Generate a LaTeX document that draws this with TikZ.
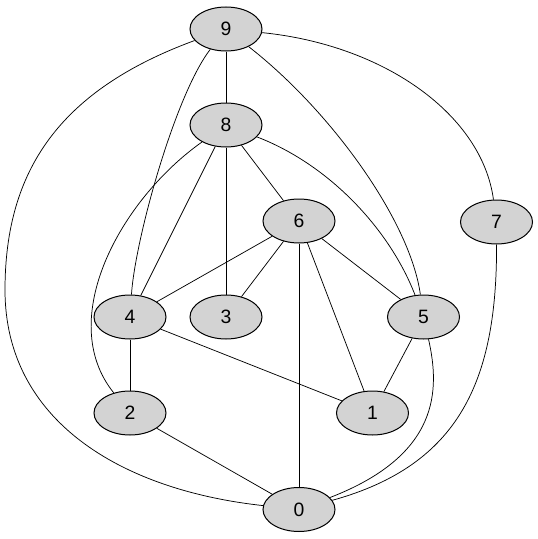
\documentclass[tikz,border=0pt]{standalone}
\usepackage{fontspec}
\setmainfont{Liberation Sans}
\usetikzlibrary{shapes.geometric}
\definecolor{nodegray}{RGB}{211,211,211}
\tikzset{
  vtx/.style={ellipse, draw=black, line width=0.75pt, fill=nodegray,
    minimum width=54pt, minimum height=33pt, inner sep=0pt,
    font=\fontsize{14.5}{16}\selectfont},
  edge/.style={draw=black, line width=0.55pt}
}
\begin{document}
\begin{tikzpicture}[x=0.75pt,y=-0.75pt]
\useasboundingbox (0,0) rectangle (537,539);
\node[vtx] (9) at (226,29) {9};
\node[vtx] (8) at (226,125) {8};
\node[vtx] (6) at (299,221) {6};
\node[vtx] (7) at (496.5,222) {7};
\node[vtx] (4) at (130,317) {4};
\node[vtx] (3) at (226,317) {3};
\node[vtx] (5) at (423.5,317) {5};
\node[vtx] (2) at (130,413) {2};
\node[vtx] (1) at (372.5,413) {1};
\node[vtx] (0) at (299,509.5) {0};
% straight edges
\draw[edge] (9) -- (8);
\draw[edge] (8) -- (4);
\draw[edge] (8) -- (3);
\draw[edge] (8) -- (6);
\draw[edge] (6) -- (4);
\draw[edge] (6) -- (3);
\draw[edge] (6) -- (5);
\draw[edge] (6) -- (1);
\draw[edge] (6) -- (0);
\draw[edge] (4) -- (2);
\draw[edge] (4) -- (1);
\draw[edge] (5) -- (1);
\draw[edge] (2) -- (0);
% curved edges
\draw[edge] (9) .. controls (175,95) and (135,240) .. (4);
\draw[edge] (9) .. controls (330,110) and (410,220) .. (5);
\draw[edge] (9) .. controls (385,45) and (482,115) .. (7);
\draw[edge] (9) .. controls (60,90) and (5,170) .. (5,290) .. controls (5,420) and (120,490) .. (0);
\draw[edge] (8) .. controls (330,165) and (390,230) .. (5);
\draw[edge] (8) .. controls (120,200) and (55,320) .. (2);
\draw[edge] (5) .. controls (440,390) and (440,455) .. (0);
\draw[edge] (7) .. controls (497,380) and (460,465) .. (0);
\end{tikzpicture}
\end{document}
